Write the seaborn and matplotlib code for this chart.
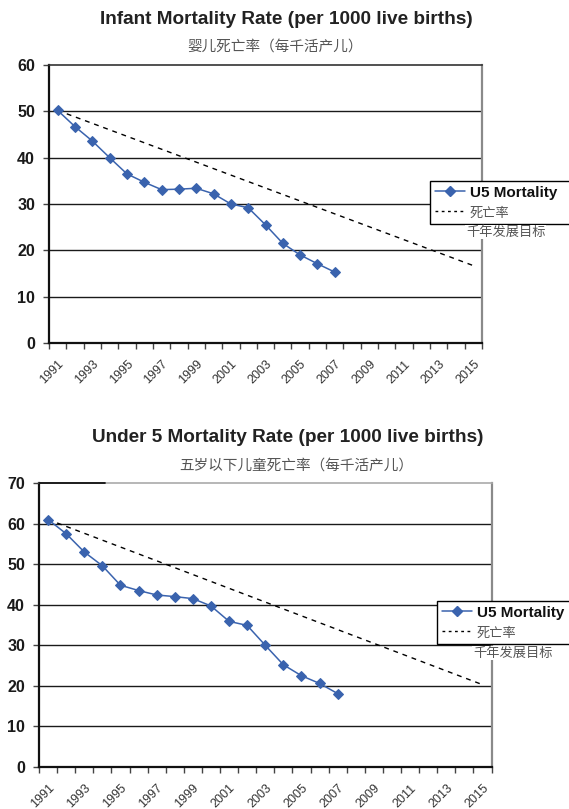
import matplotlib
matplotlib.use("Agg")
import matplotlib.pyplot as plt
from matplotlib.lines import Line2D
import seaborn as sns
import pandas as pd

# ---------------- data ----------------
years = [1991, 1992, 1993, 1994, 1995, 1996, 1997, 1998, 1999,
         2000, 2001, 2002, 2003, 2004, 2005, 2006, 2007]
imr = [50.2, 46.7, 43.6, 40.0, 36.5, 34.7, 33.1, 33.2, 33.4,
       32.2, 30.0, 29.2, 25.5, 21.5, 19.0, 17.1, 15.3]
u5mr = [61.0, 57.5, 53.0, 49.6, 44.8, 43.5, 42.4, 42.0, 41.5,
        39.7, 35.9, 34.9, 30.0, 25.2, 22.5, 20.6, 18.1]
target_years = [1991, 2015]
imr_target = [50.2, 16.7]
u5mr_target = [61.0, 20.3]
label_years = list(range(1991, 2016, 2))
series_label = "U5 Mortality"
target_label_1 = "死亡率"
target_label_2 = "千年发展目标"

title_top = "Infant Mortality Rate (per 1000 live births)"
sub_top = "婴儿死亡率（每千活产儿）"
title_bot = "Under 5 Mortality Rate (per 1000 live births)"
sub_bot = "五岁以下儿童死亡率（每千活产儿）"

# ---------------- style ----------------
sns.set_style("white")
plt.rcParams['font.family'] = ['Liberation Sans', 'Noto Sans CJK SC', 'DejaVu Sans']
CJK = ['Noto Sans CJK SC', 'DejaVu Sans']
BLUE = "#3a63ae"
GREY_TXT = "#555555"

W, H = 569, 809
fig = plt.figure(figsize=(W / 100, H / 100), dpi=100)
fig.patch.set_facecolor("white")


def fx(px):
    return px / W


def fy(py):
    return 1 - py / H


def make_axes(left, right, top, bottom):
    return fig.add_axes([fx(left), fy(bottom), fx(right) - fx(left), fy(top) - fy(bottom)])


def style_axes(ax, ymax):
    ax.set_xlim(1990.5, 2015.5)
    ax.set_ylim(0, ymax)
    ax.set_yticks(range(0, ymax + 1, 10))
    ax.set_yticklabels([str(v) for v in range(0, ymax + 1, 10)],
                       fontsize=11.5, fontweight='bold', color='#1a1a1a')
    for v in range(10, ymax, 10):
        ax.axhline(v, color='#1a1a1a', lw=1.0, zorder=1)
    # category boundaries as tick marks
    ax.set_xticks([1990.5 + k for k in range(26)])
    ax.set_xticklabels([])
    ax.set_xticks(label_years, minor=True)
    ax.set_xticklabels([str(y) for y in label_years], minor=True,
                       rotation=45, ha='right', va='top', rotation_mode='anchor',
                       fontsize=9, color='#333333')
    ax.tick_params(axis='x', which='major', direction='out', length=4,
                   width=1, color='#444444', bottom=True)
    ax.tick_params(axis='x', which='minor', length=0, pad=11, bottom=True)
    ax.tick_params(axis='y', direction='out', length=4, width=1,
                   color='#444444', left=True, pad=6)
    ax.spines['left'].set_color('#111111')
    ax.spines['left'].set_linewidth(1.6)
    ax.spines['bottom'].set_color('#111111')
    ax.spines['bottom'].set_linewidth(1.6)
    ax.spines['right'].set_color('#8a8a8a')
    ax.spines['right'].set_linewidth(1.6)
    ax.set_xlabel("")
    ax.set_ylabel("")


def draw(ax, vals, target):
    df = pd.DataFrame({"year": years, "value": vals})
    sns.lineplot(data=df, x="year", y="value", ax=ax, color=BLUE, lw=1.1,
                 marker='D', markersize=5.5, markeredgecolor=BLUE, zorder=4)
    dt = pd.DataFrame({"year": target_years, "value": target})
    sns.lineplot(data=dt, x="year", y="value", ax=ax, color='black', lw=1.0,
                 zorder=3)
    ax.lines[-1].set_linestyle((0, (3.5, 3.5)))


def legend(left_px, top_px, txt_y_px):
    handles = [Line2D([], [], color=BLUE, lw=1.1, marker='D', markersize=5.5),
               Line2D([], [], color='black', lw=1.0, linestyle=(0, (2, 2.5)))]
    leg = fig.legend(handles, [series_label, target_label_1],
                     loc='upper left', mode='expand',
                     bbox_to_anchor=(fx(left_px), fy(top_px + 40),
                                     fx(220), fy(top_px) - fy(top_px + 40)),
                     frameon=True, fancybox=False, edgecolor='black',
                     framealpha=1, fontsize=11, handlelength=2.0,
                     handletextpad=0.3, borderpad=0.3, labelspacing=0.4,
                     borderaxespad=0)
    leg.get_frame().set_linewidth(1.0)
    leg.set_zorder(8)
    t = leg.get_texts()
    t[0].set_fontweight('bold')
    t[0].set_color('#111111')
    t[1].set_family(CJK)
    t[1].set_color(GREY_TXT)
    t[1].set_fontsize(9.5)
    fig.text(fx(left_px + 36), fy(txt_y_px), target_label_2, family=CJK,
             fontsize=9.5, color=GREY_TXT, va='center', ha='left', zorder=10,
             bbox=dict(facecolor='white', edgecolor='none', pad=0.5))


# ---------------- top chart ----------------
ax1 = make_axes(49, 482, 65, 343)
draw(ax1, imr, imr_target)
style_axes(ax1, 60)
ax1.spines['top'].set_color('#333333')
ax1.spines['top'].set_linewidth(1.2)
fig.text(0.503, fy(20), title_top, ha='center', va='center', fontsize=13.7,
         fontweight='bold', color='#222222')
fig.text(fx(275), fy(47), sub_top, ha='center', va='center', fontsize=10.5,
         family=CJK, color=GREY_TXT)
legend(430, 181, 232)

# ---------------- bottom chart ----------------
ax2 = make_axes(39, 491.5, 483, 767)
draw(ax2, u5mr, u5mr_target)
style_axes(ax2, 70)
ax2.spines['top'].set_color('#aaaaaa')
ax2.spines['top'].set_linewidth(1.2)
ax2.axhline(70, xmin=0, xmax=(105 - 39) / (491.5 - 39), color='#111111',
            lw=1.3, zorder=5, clip_on=False)
fig.text(0.505, fy(437), title_bot, ha='center', va='center', fontsize=13.7,
         fontweight='bold', color='#222222')
fig.text(fx(296), fy(466), sub_bot, ha='center', va='center', fontsize=10.5,
         family=CJK, color=GREY_TXT)
legend(437, 601, 653)

fig.savefig("out.png", dpi=100, facecolor='white')
